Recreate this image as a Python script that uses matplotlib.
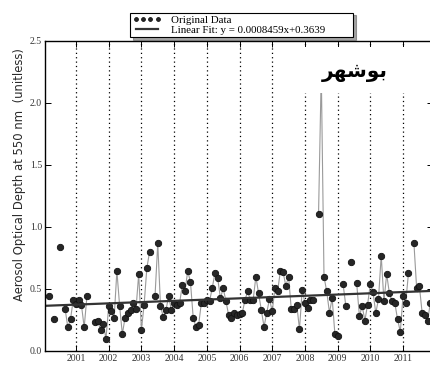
import numpy as np
import matplotlib.pyplot as plt
from matplotlib.patches import Rectangle

nan = np.nan

# monthly mean AOD at 550 nm, Jan..Dec (nan = no data)
aod_2000 = [nan, nan, 0.44, nan, 0.255, nan, 0.84, nan, 0.34, 0.19, 0.26, 0.415]
aod_2001 = [0.38, 0.41, 0.37, 0.19, 0.44, nan, nan, 0.235, 0.24, 0.17, 0.22, 0.10]
aod_2002 = [0.365, 0.325, 0.27, 0.645, 0.365, 0.135, 0.27, 0.31, 0.33, 0.39, 0.335, 0.62]
aod_2003 = [0.17, 0.375, 0.67, 0.80, nan, 0.445, 0.87, 0.365, 0.275, 0.33, 0.44, 0.33]
aod_2004 = [0.39, 0.37, 0.385, 0.53, 0.485, 0.645, 0.555, 0.27, 0.195, 0.21, 0.39, 0.39]
aod_2005 = [0.41, 0.40, 0.51, 0.63, 0.585, 0.425, 0.505, 0.405, 0.29, 0.27, 0.31, 0.29]
aod_2006 = [0.30, 0.305, 0.41, 0.48, 0.41, 0.41, 0.60, 0.465, 0.33, 0.195, 0.31, 0.42]
aod_2007 = [0.32, 0.505, 0.485, 0.645, 0.635, 0.525, 0.60, 0.335, 0.335, 0.375, 0.175, 0.49]
aod_2008 = [0.39, 0.345, 0.41, 0.41, nan, 1.105, 2.25, 0.60, 0.48, 0.31, 0.425, 0.135]
aod_2009 = [0.125, nan, 0.54, 0.365, nan, 0.72, nan, 0.545, 0.28, 0.365, 0.245, 0.375]
aod_2010 = [0.54, 0.475, 0.305, 0.42, 0.77, 0.40, 0.62, 0.465, 0.40, 0.385, 0.255, 0.155]
aod_2011 = [0.445, 0.39, 0.63, nan, 0.87, 0.505, 0.525, 0.31, 0.29, 0.24, 0.385, 0.38]

years = [2001, 2002, 2003, 2004, 2005, 2006, 2007, 2008, 2009, 2010, 2011]
fit_slope = 0.0008459
fit_intercept = 0.3639
fit_label = 'Linear Fit: y = 0.0008459x+0.3639'
station = '\ufeae\ufeec\ufeb7\ufeee\ufe91'  # "بوشهر" in shaped, visual order

aod = np.array(aod_2000 + aod_2001 + aod_2002 + aod_2003 + aod_2004 + aod_2005
               + aod_2006 + aod_2007 + aod_2008 + aod_2009 + aod_2010 + aod_2011)
months = np.arange(len(aod))  # months since Jan 2000

serif = 'Liberation Serif'

fig = plt.figure(figsize=(4.31, 3.71), dpi=100)
ax = fig.add_axes([45 / 431, 20 / 371, 388 / 431, 310 / 371])

ax.plot(months, aod, color='#9a9a9a', lw=0.8, zorder=2)
ax.plot(months, aod, 'o', ms=4.6, mfc='#262626', mec='#111111', mew=0.6,
        label='Original Data', zorder=2.2)

ax.set_xlim(0.62, 143.0)
ax.set_ylim(0, 2.5)
xfit = np.array(ax.get_xlim())
ax.plot(xfit, fit_slope * xfit + fit_intercept, color='#333333', lw=1.6,
        label=fit_label, zorder=2.4)

ax.set_xticks([(y - 2000) * 12 for y in years])
ax.set_xticklabels([str(y) for y in years])
ax.set_yticks([0.0, 0.5, 1.0, 1.5, 2.0, 2.5])
ax.set_yticklabels(['0.0', '0.5', '1.0', '1.5', '2.0', '2.5'])
ax.tick_params(direction='in', length=4, width=0.7, top=True, right=True,
               labelsize=7, labelcolor='#333333', pad=2)
for lab in ax.get_xticklabels() + ax.get_yticklabels():
    lab.set_family(serif)
ax.xaxis.grid(True, linestyle=(0, (1, 2.5)), color='black', lw=0.9)
for sp in ax.spines.values():
    sp.set_linewidth(1.0)

# white patch behind the station name
ax.add_patch(Rectangle((0.657, 0.832), 0.36, 0.149, transform=ax.transAxes,
                       fc='white', ec='none', zorder=3))
ax.text(0.798, 0.9, station, transform=ax.transAxes, ha='center', va='center',
        fontsize=14.5, fontweight='bold', family='DejaVu Sans', zorder=4)

fig.text(20 / 431, 1 - 175 / 371, 'Aerosol Optical Depth at 550 nm  (unitless)',
         rotation=90, ha='center', va='center', fontsize=8.4, color='#2a2a2a')

leg = ax.legend(loc='center', bbox_to_anchor=(130 / 431, 1 - 38 / 371, 223 / 431, 26 / 371),
                bbox_transform=fig.transFigure, mode='expand', numpoints=4,
                markerscale=0.6, prop={'family': serif, 'size': 7.8},
                fancybox=False, shadow=True, borderpad=0.25, labelspacing=0.0,
                handlelength=2.6, handletextpad=0.9, borderaxespad=0)
leg.get_frame().set_edgecolor('black')
leg.get_frame().set_linewidth(0.8)

fig.savefig('out.png', dpi=100)
